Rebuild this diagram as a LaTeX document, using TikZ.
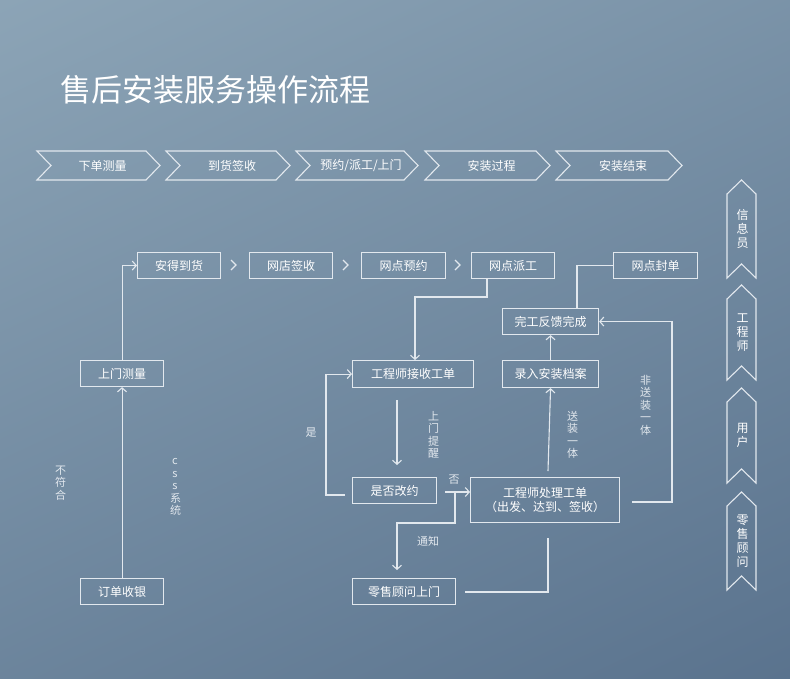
\documentclass[tikz,border=0pt]{standalone}
\usepackage{fontspec}
\newfontfamily\cjk{Noto Sans CJK SC}
\usetikzlibrary{arrows.meta}
\definecolor{ln}{HTML}{E2E8EE}
\definecolor{bgA}{HTML}{93ABBC}
\definecolor{bgB}{HTML}{536C88}
\tikzset{
  box/.style={draw=ln,line width=1.1pt,text=white,font=\cjk\fontsize{12}{14}\selectfont,inner sep=0pt,anchor=north west},
  ln/.style={draw=ln,line width=1.1pt},
  arr/.style={ln,-{Straight Barb[length=4pt,width=9pt,line width=1.1pt]}},
  lbl/.style={text=ln,font=\cjk\fontsize{11}{12}\selectfont,align=center,inner sep=0pt},
  vlbl/.style={lbl,text width=1em,font=\cjk\fontsize{11}{12.5}\selectfont}
}
\newcommand{\bx}[6]{\node[box,minimum width=#4pt,minimum height=#5pt] (#1) at (#2,#3) {#6};}
\begin{document}
\begin{tikzpicture}[x=1pt,y=-1pt]
\useasboundingbox (0,0) rectangle (790,678);
\clip (0,0) rectangle (790,678);
\shade[shading=axis,top color=bgA,bottom color=bgB,shading angle=25] (-250,-250) rectangle (1040,928);
\node[anchor=west,text=white,font=\cjk\fontsize{31}{34}\selectfont,inner sep=0pt] (title) at (60,90) {售后安装服务操作流程};
% top chevrons
\foreach \a/\b/\t [count=\i] in {37/160/下单测量,166/290/到货签收,296/418/{预约/派工/上门},425/550/安装过程,556/682/安装结束}{
  \draw[ln] (\a,151) -- (\b-14,151) -- (\b,165.5) -- (\b-14,180) -- (\a,180) -- (\a+14,165.5) -- cycle;
  \node[lbl,font=\cjk\fontsize{12}{14}\selectfont,text=white] (ch\i) at ({(\a+\b)/2+4},165.5) {\t};
}
% right vertical chevrons
\foreach \a/\b/\t [count=\i] in {180/278/信\\息\\员,285/380/工\\程\\师,388/483/用\\户,492/590/零\\售\\顾\\问}{
  \draw[ln] (741.5,\a) -- (756,\a+14) -- (756,\b) -- (741.5,\b-14) -- (727,\b) -- (727,\a+14) -- cycle;
  \node[vlbl,text=white,font=\cjk\fontsize{12}{14}\selectfont] (rv\i) at (741.5,{(\a+\b)/2}) {\t};
}
% boxes
\bx{ad}{137}{252}{83}{26}{安得到货}
\bx{wq}{249}{252}{83}{26}{网店签收}
\bx{wy}{361}{252}{84}{26}{网点预约}
\bx{wp}{471}{252}{83}{26}{网点派工}
\bx{wf}{613}{252}{84}{26}{网点封单}
\bx{sm}{80}{360}{83}{26}{上门测量}
\bx{dd}{80}{578}{83}{26}{订单收银}
\bx{js}{352}{360}{121}{27}{工程师接收工单}
\bx{wg}{502}{308}{96}{26}{完工反馈完成}
\bx{lr}{502}{360}{96}{27}{录入安装档案}
\bx{sf}{352}{477}{84}{26}{是否改约}
\node[box,minimum width=149pt,minimum height=45pt,align=center] (cl) at (470,477) {工程师处理工单\\（出发、达到、签收）};
\bx{ls}{352}{578}{103}{26}{零售顾问上门}
% > separators
\foreach \x in {234,346,458}
  \draw[ln] (\x-3,260) -- (\x+2,265) -- (\x-3,270);
% connectors
\draw[arr] (dd.north) -- (sm.south);
\draw[arr] (sm.north) |- (ad.west);
\coordinate (p1) at (487,278);
\draw[arr] (p1) -- (487,297) -| (js.north -| 415,0);
\coordinate (p2) at (577,308);
\draw[ln] (wf.west) -| (p2);
\draw[arr] (lr.north) -- (wg.south);
\coordinate (p3) at (548,471);
\draw[arr] (p3) -- (lr.south);
\coordinate (p4) at (632,502);
\draw[arr] (p4) -- (672,502) |- (wg.east);
\coordinate (p5) at (397,400);
\draw[arr] (p5) -- (397,465);
\coordinate (p6) at (345,495);
\draw[arr] (p6) -- (326,495) |- (js.west);
\coordinate (p7) at (445,492);
\draw[arr] (p7) -- (cl.west |- p7);
\coordinate (p8) at (455,492);
\draw[arr] (p8) -- (455,523) -| (397,570);
\coordinate (p9) at (548,538);
\draw[ln] (465,592) -| (p9);
% labels
\node[vlbl] (l1) at (60,483) {不\\符\\合};
\node[vlbl] (l2) at (175,487) {c\\s\\s\\系\\统};
\node[vlbl] (l3) at (433,435) {上\\门\\提\\醒};
\node[vlbl] (l4) at (572,435) {送\\装\\一\\体};
\node[vlbl] (l5) at (645,405) {非\\送\\装\\一\\体};
\node[lbl] (l6) at (311,433) {是};
\node[lbl] (l7) at (454,480) {否};
\node[lbl] (l8) at (428,541) {通知};
\end{tikzpicture}
\end{document}
